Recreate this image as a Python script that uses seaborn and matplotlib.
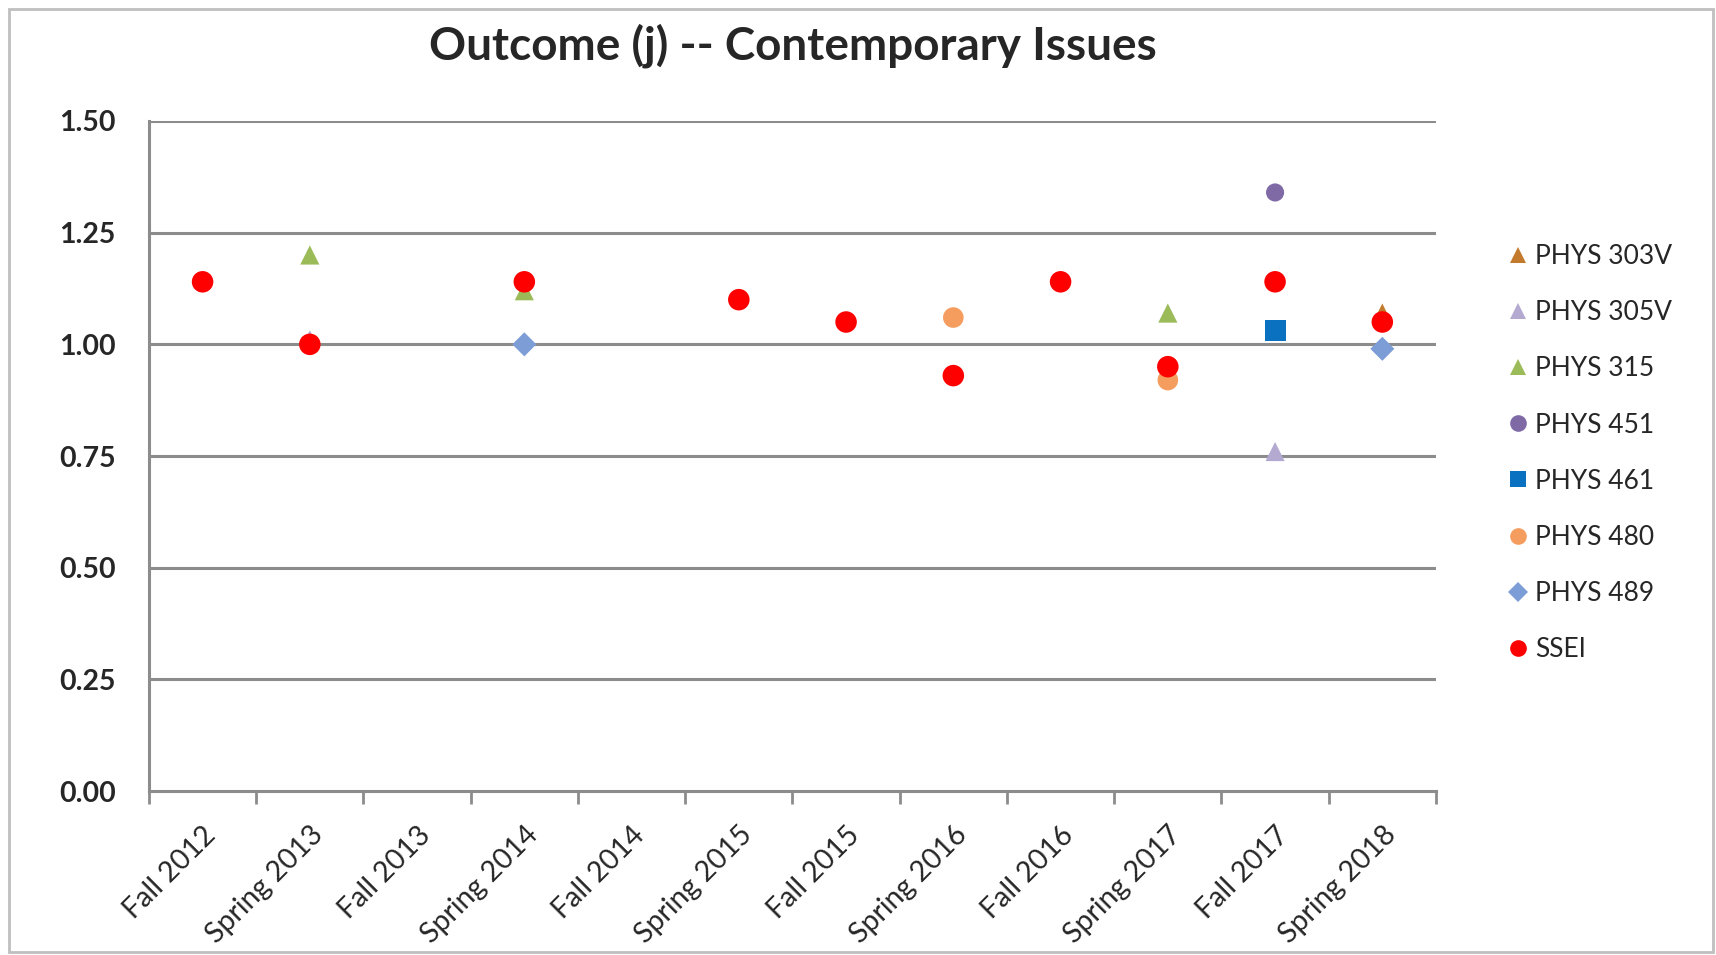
import numpy as np
import pandas as pd
import matplotlib
matplotlib.use("Agg")
import matplotlib.pyplot as plt
from matplotlib.lines import Line2D
from matplotlib.patches import Rectangle
import seaborn as sns

# Dados
semesters = ["Fall 2012", "Spring 2013", "Fall 2013", "Spring 2014", "Fall 2014",
             "Spring 2015", "Fall 2015", "Spring 2016", "Fall 2016", "Spring 2017",
             "Fall 2017", "Spring 2018"]

courses = ["PHYS 303V", "PHYS 305V", "PHYS 315", "PHYS 451",
           "PHYS 461", "PHYS 480", "PHYS 489", "SSEI"]

phys303v_sem = ["Spring 2018"]
phys303v_val = [1.07]
phys305v_sem = ["Spring 2013", "Fall 2017"]
phys305v_val = [1.01, 0.76]
phys315_sem = ["Spring 2013", "Spring 2014", "Spring 2017"]
phys315_val = [1.20, 1.12, 1.07]
phys451_sem = ["Fall 2017"]
phys451_val = [1.34]
phys461_sem = ["Fall 2017"]
phys461_val = [1.03]
phys480_sem = ["Spring 2016", "Spring 2017"]
phys480_val = [1.06, 0.92]
phys489_sem = ["Spring 2014", "Spring 2018"]
phys489_val = [1.00, 0.99]
ssei_sem = ["Fall 2012", "Spring 2013", "Spring 2014", "Spring 2015", "Fall 2015",
            "Spring 2016", "Fall 2016", "Spring 2017", "Fall 2017", "Spring 2018"]
ssei_val = [1.14, 1.00, 1.14, 1.10, 1.05, 0.93, 1.14, 0.95, 1.14, 1.05]

y_ticks = [0.00, 0.25, 0.50, 0.75, 1.00, 1.25, 1.50]

# Estilo
palette = {"PHYS 303V": "#C47A2C", "PHYS 305V": "#B4A9D1", "PHYS 315": "#9BBB59",
           "PHYS 451": "#7F6AA6", "PHYS 461": "#0A70C0", "PHYS 480": "#F59D5E",
           "PHYS 489": "#7C9DD6", "SSEI": "#FF0000"}
markers = {"PHYS 303V": "^", "PHYS 305V": "^", "PHYS 315": "^", "PHYS 451": "o",
           "PHYS 461": "s", "PHYS 480": "o", "PHYS 489": "D", "SSEI": "o"}
sizes = {"PHYS 303V": 190, "PHYS 305V": 190, "PHYS 315": 190, "PHYS 451": 170,
         "PHYS 461": 230, "PHYS 480": 220, "PHYS 489": 150, "SSEI": 240}

series = {
    "PHYS 303V": (phys303v_sem, phys303v_val),
    "PHYS 305V": (phys305v_sem, phys305v_val),
    "PHYS 315": (phys315_sem, phys315_val),
    "PHYS 451": (phys451_sem, phys451_val),
    "PHYS 461": (phys461_sem, phys461_val),
    "PHYS 480": (phys480_sem, phys480_val),
    "PHYS 489": (phys489_sem, phys489_val),
    "SSEI": (ssei_sem, ssei_val),
}

rows = []
for c in courses:
    sems, vals = series[c]
    for s, v in zip(sems, vals):
        rows.append({"course": c, "semester": s, "pos": semesters.index(s), "score": v})
df = pd.DataFrame(rows)

sns.set_theme(style="white")
plt.rcParams["font.family"] = ["Lato", "DejaVu Sans"]

fig = plt.figure(figsize=(17.16, 9.55), dpi=100)
ax = fig.add_axes([0.0868, 0.1717, 0.75, 0.7016])

grid_c = "#8C8C8C"
for yv in y_ticks[1:]:
    ax.axhline(yv, color=grid_c, linewidth=2.2, zorder=1)

sns.scatterplot(data=df, x="pos", y="score", hue="course", style="course",
                size="course", hue_order=courses, style_order=courses,
                size_order=courses, palette=palette, markers=markers,
                sizes=sizes, linewidth=0, legend=False, ax=ax, zorder=3)

ax.set_xlim(-0.5, len(semesters) - 0.5)
ax.set_ylim(0, 1.5)
ax.set_yticks(y_ticks)
ax.set_yticklabels([f"{v:.2f}" for v in y_ticks], fontsize=20.5, fontweight="bold")
ax.tick_params(axis="y", length=0, pad=24)

ax.set_xticks(range(len(semesters)))
ax.set_xticklabels(semesters, rotation=45, ha="right", va="top",
                   rotation_mode="anchor", fontsize=20.5)
ax.set_xticks(np.arange(-0.5, len(semesters)), minor=True)
ax.tick_params(axis="x", which="major", length=0, pad=22)
ax.tick_params(axis="x", which="minor", length=9, width=2, color=grid_c,
               direction="out", bottom=True)
ax.set_xlabel("")
ax.set_ylabel("")

for side in ["top", "right"]:
    ax.spines[side].set_visible(False)
for side in ["left", "bottom"]:
    ax.spines[side].set_color(grid_c)
    ax.spines[side].set_linewidth(2.2)

ax.set_title("Outcome (j) -- Contemporary Issues", fontsize=33,
             fontweight="bold", pad=44)

handles = [Line2D([0], [0], marker=markers[c], color="none",
                  markerfacecolor=palette[c], markeredgewidth=0,
                  markersize=12 if markers[c] != "D" else 10) for c in courses]
ax.legend(handles, courses, loc="upper left", bbox_to_anchor=(1.043, 0.832),
          frameon=False, fontsize=19, handletextpad=0.05, labelspacing=1.18,
          handlelength=1.2, borderaxespad=0)

fig.patches.append(Rectangle((0.005, 0.003), 0.993, 0.988, transform=fig.transFigure,
                             fill=False, edgecolor="#BFBFBF", linewidth=2))

plt.savefig("out.png", dpi=100)
plt.close()
